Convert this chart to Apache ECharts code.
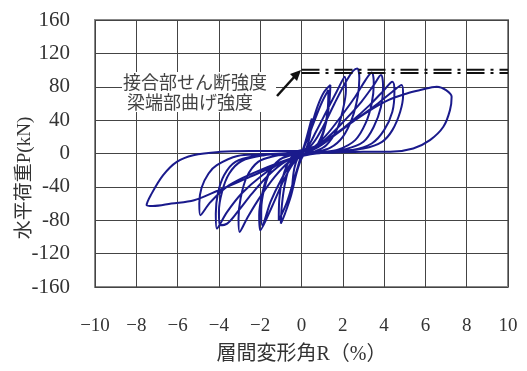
<!DOCTYPE html>
<html>
<head>
<meta charset="utf-8">
<script src="https://cdn.jsdelivr.net/npm/echarts@6/dist/echarts.min.js"></script>
<style>
  html, body { margin: 0; padding: 0; background: #fff; }
  #chart { width: 527px; height: 371px; }
</style>
</head>
<body>
<div id="chart"></div>
<script>
// 層間変形角R(%) / 水平荷重P(kN), cycle by cycle
const cycle0 = [[0,0],[0.2,15],[0.45,38],[0.5,42],[0.4,20],[0.2,4],[0,-2],[-0.2,-18],[-0.4,-38],[-0.45,-40],[-0.35,-18],[-0.15,-3],[0,1]];
const cycle1 = [[0.2,12],[0.5,35],[0.8,58],[1.1,74],[1.4,82],[1.35,62],[1.2,38],[0.9,14],[0.5,3],[0.1,-2],[-0.2,-20],[-0.5,-50],[-0.8,-72],[-1.0,-84],[-0.95,-62],[-0.8,-36],[-0.5,-10],[-0.2,-2],[0,2]];
const cycle1b = [[0.3,18],[0.7,44],[1.0,62],[1.3,76],[1.28,56],[1.1,30],[0.7,8],[0.3,1],[0,-5],[-0.3,-26],[-0.7,-58],[-1.1,-80],[-1.08,-56],[-0.9,-28],[-0.5,-5],[-0.1,0]];
const cycle2 = [[0.3,8],[0.7,26],[1.2,50],[1.7,74],[2.1,92],[2.15,76],[2.0,52],[1.7,28],[1.2,10],[0.6,2],[0,-3],[-0.4,-12],[-0.9,-34],[-1.4,-62],[-2.0,-92],[-2.05,-74],[-1.9,-48],[-1.6,-24],[-1.1,-8],[-0.4,-1]];
const cycle2b = [[0.4,8],[1.0,30],[1.6,60],[2.2,88],[2.5,99],[2.7,102],[2.8,90],[2.72,68],[2.45,42],[2.0,20],[1.4,7],[0.6,1],[0,-3],[-0.5,-12],[-1.0,-32],[-1.5,-58],[-1.9,-86],[-1.95,-68],[-1.8,-42],[-1.45,-18],[-0.9,-5],[-0.2,0]];
const cycle3 = [[0.5,6],[1.2,22],[1.9,44],[2.6,68],[3.1,88],[3.4,97],[3.5,84],[3.4,60],[3.1,36],[2.6,16],[1.8,5],[0.8,1],[0,-3],[-0.6,-10],[-1.3,-28],[-2.0,-52],[-2.6,-76],[-3.0,-94],[-3.05,-78],[-2.95,-54],[-2.65,-28],[-2.1,-10],[-1.3,-3],[-0.5,-1]];
const cycle3b = [[0.5,5],[1.3,20],[2.1,40],[2.9,62],[3.5,82],[3.85,94],[3.95,80],[3.85,56],[3.5,32],[3.0,14],[2.1,5],[1.0,1],[0,-3],[-0.8,-10],[-1.6,-26],[-2.4,-48],[-3.1,-70],[-3.6,-84],[-3.95,-86],[-4.0,-70],[-3.85,-46],[-3.5,-24],[-2.9,-9],[-1.8,-2],[-0.6,0]];
const cycle4 = [[0.5,4],[1.4,18],[2.4,38],[3.3,58],[4.0,76],[4.4,86],[4.5,74],[4.4,50],[4.0,28],[3.4,12],[2.4,4],[1.0,1],[0,-3],[-0.9,-10],[-1.9,-26],[-2.9,-48],[-3.6,-70],[-4.1,-90],[-4.15,-72],[-4.05,-48],[-3.75,-26],[-3.2,-10],[-2.2,-3],[-0.8,0]];
const cycle4b = [[0.5,4],[1.5,20],[2.7,42],[3.7,60],[4.4,74],[4.85,82],[4.92,70],[4.78,50],[4.4,28],[3.9,14],[3.0,6],[1.8,3],[0.6,1],[0,-2],[-1.0,-10],[-2.2,-22],[-3.5,-38],[-4.4,-58],[-4.9,-74],[-4.95,-60],[-4.84,-41],[-4.5,-24],[-4.1,-14],[-3.1,-3],[-2.0,-1],[-0.6,1]];
const cycle5 = [[0.8,10],[2.0,30],[3.2,50],[4.2,64],[5.1,72],[5.75,76],[6.55,80],[7.0,76],[7.27,68],[7.19,52],[6.87,32],[6.22,16],[5.41,6],[4.29,2],[3.0,2],[1.5,1],[0.3,0],[-1.0,-12],[-2.5,-28],[-4.0,-44],[-5.2,-56],[-6.3,-60],[-7.2,-63],[-7.5,-62],[-7.3,-50],[-6.7,-26],[-6.04,-10],[-5.24,-2],[-3.95,2],[-2.5,3],[-1.0,3],[0,3]];

// 強度ライン
const shearStrength = [[0,100.5],[10,100.5]];   // 接合部せん断強度
const bendStrength = [[0,96.5],[10,96.5]];      // 梁端部曲げ強度

const xTicks = { min: -10, max: 10, step: 2 };
const yTicks = { min: -160, max: 160, step: 40 };

const loops = [].concat(cycle0, cycle1, cycle1b, cycle2, cycle2b, cycle3, cycle3b, cycle4, cycle4b, cycle5);

const serif = "'Liberation Serif', 'Noto Sans CJK JP', serif";
const chart = echarts.init(document.getElementById('chart'));

const option = {
  animation: false,
  backgroundColor: '#fff',
  grid: {
    left: 95, right: 19, top: 20, bottom: 84,
    outerBoundsMode: 'none', containLabel: false,
    show: true, borderColor: '#888', borderWidth: 2
  },
  xAxis: {
    type: 'value',
    min: xTicks.min, max: xTicks.max, interval: xTicks.step,
    name: '層間変形角R（%）',
    nameLocation: 'middle', nameGap: 58,
    nameTextStyle: { fontFamily: serif, fontSize: 20, color: '#333' },
    axisLine: { show: false },
    axisTick: { show: false },
    axisLabel: {
      margin: 30, fontFamily: serif, fontSize: 19, color: '#333',
      formatter: v => v < 0 ? '\u2212' + (-v) : String(v)
    },
    splitLine: { show: true, lineStyle: { color: '#444', width: 1 } }
  },
  yAxis: {
    type: 'value',
    min: yTicks.min, max: yTicks.max, interval: yTicks.step,
    axisLine: { show: false },
    axisTick: { show: false },
    axisLabel: { margin: 25, fontFamily: serif, fontSize: 21, color: '#333' },
    splitLine: { show: true, lineStyle: { color: '#444', width: 1 } }
  },
  series: [
    {
      type: 'line', data: loops, showSymbol: false, smooth: 0.35,
      lineStyle: { color: '#1a1a8c', width: 2 }, z: 3
    },
    {
      type: 'line', data: shearStrength, showSymbol: false,
      lineStyle: { color: '#111', width: 2, type: [18, 6, 3, 6] }, z: 4
    },
    {
      type: 'line', data: bendStrength, showSymbol: false,
      lineStyle: { color: '#111', width: 2, type: [18, 6, 3, 6] }, z: 4
    }
  ],
  graphic: [
    {
      type: 'text', x: 25, y: 178, rotation: Math.PI / 2,
      style: { text: '水平荷重P(kN)', font: "19px 'Liberation Serif', 'Noto Sans CJK JP'", fill: '#333', align: 'center', verticalAlign: 'middle' }
    },
    { type: 'rect', shape: { x: 122, y: 72, width: 154, height: 40 }, style: { fill: '#fff' }, z: 10 },
    {
      type: 'text', x: 123, y: 82, z: 11,
      style: { text: '接合部せん断強度', font: "18px 'Noto Sans CJK JP'", fill: '#444', verticalAlign: 'middle' }
    },
    {
      type: 'text', x: 127, y: 102, z: 11,
      style: { text: '梁端部曲げ強度', font: "18px 'Noto Sans CJK JP'", fill: '#444', verticalAlign: 'middle' }
    },
    { type: 'line', shape: { x1: 277, y1: 96, x2: 296, y2: 75 }, style: { stroke: '#111', lineWidth: 2.5 }, z: 11 },
    { type: 'polygon', shape: { points: [[301, 70], [290, 74], [297, 81]] }, style: { fill: '#111' }, z: 11 }
  ]
};
chart.setOption(option);
</script>
</body>
</html>
